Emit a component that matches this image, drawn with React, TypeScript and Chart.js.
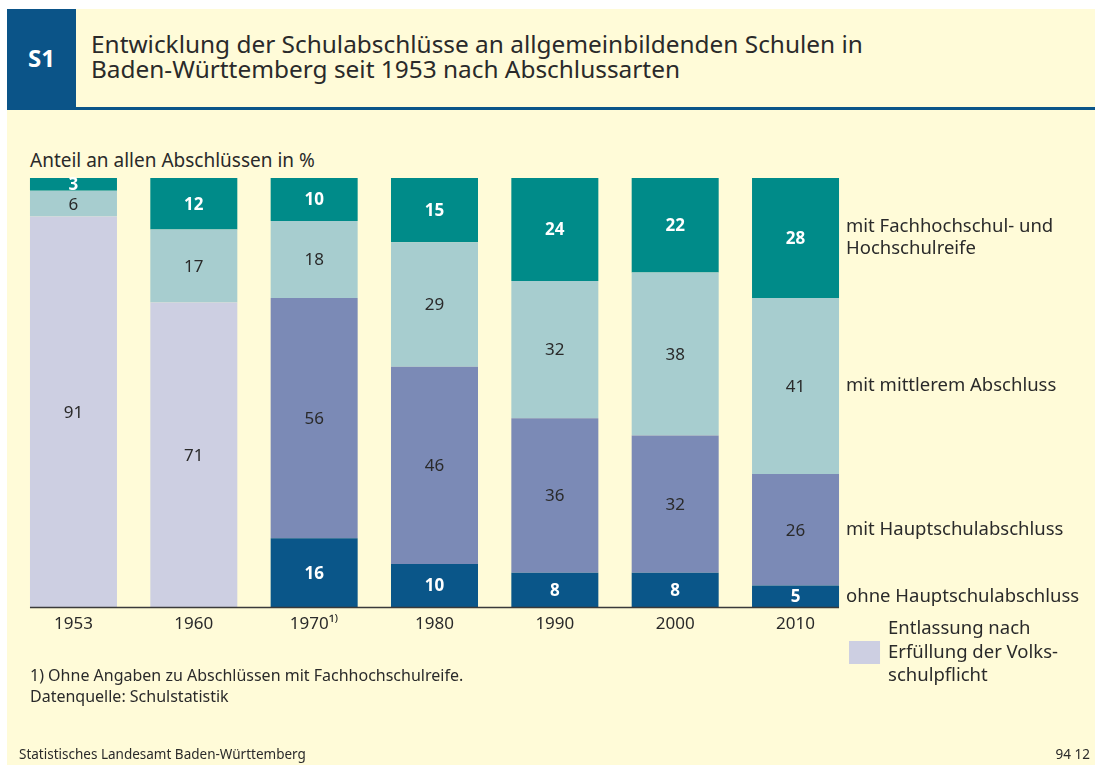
import React, { useEffect, useRef } from "react";
import { Chart, registerables } from "chart.js";

Chart.register(...registerables);

const years = ["1953", "1960", "1970\u00B9\u207E", "1980", "1990", "2000", "2010"];
const volksschule = [91, 71, null, null, null, null, null];
const ohneHaupt = [null, null, 16, 10, 8, 8, 5];
const mitHaupt = [null, null, 56, 46, 36, 32, 26];
const mittlerer = [6, 17, 18, 29, 32, 38, 41];
const hochschul = [3, 12, 10, 15, 24, 22, 28];

const seriesNames = [
  ["Entlassung nach", "Erfüllung der Volks-", "schulpflicht"],
  ["ohne Hauptschulabschluss"],
  ["mit Hauptschulabschluss"],
  ["mit mittlerem Abschluss"],
  ["mit Fachhochschul- und", "Hochschulreife"],
];

const colors = ["#CDCFE2", "#0A5689", "#7B8AB6", "#A7CDCF", "#008B89"];
const valueColors = ["#2a2a2a", "#ffffff", "#2a2a2a", "#2a2a2a", "#ffffff"];
const valueWeights = ["normal", "bold", "normal", "normal", "bold"];

const FONT = "'Noto Sans', sans-serif";
const TEXT = "#2a2a2a";

const labelPlugin = {
  id: "labelPlugin",
  afterDatasetsDraw(chart: any) {
    const ctx = chart.ctx;
    const area = chart.chartArea;
    ctx.save();
    // baseline under the bars
    const firstMeta = chart.getDatasetMeta(0);
    const lastIdx = years.length - 1;
    const firstEl = firstMeta.data[0];
    const lastEl = firstMeta.data[lastIdx];
    ctx.strokeStyle = "#3a3a3a";
    ctx.lineWidth = 1.5;
    ctx.beginPath();
    ctx.moveTo(firstEl.x - firstEl.width / 2, area.bottom + 0.5);
    ctx.lineTo(lastEl.x + lastEl.width / 2, area.bottom + 0.5);
    ctx.stroke();

    ctx.textAlign = "center";
    ctx.textBaseline = "middle";
    chart.data.datasets.forEach((ds: any, di: number) => {
      const meta = chart.getDatasetMeta(di);
      meta.data.forEach((el: any, i: number) => {
        const v = ds.data[i];
        if (v === null || v === undefined) return;
        ctx.fillStyle = valueColors[di];
        ctx.font = `${valueWeights[di]} 17px ${FONT}`;
        const yMid = (el.y + el.base) / 2;
        ctx.fillText(String(v), el.x, yMid + 1);
      });
    });

    // series labels on the right, beside the last bar
    ctx.textAlign = "left";
    ctx.fillStyle = TEXT;
    ctx.font = `18.5px ${FONT}`;
    for (let di = 1; di < chart.data.datasets.length; di++) {
      const el = chart.getDatasetMeta(di).data[lastIdx];
      const lines = seriesNames[di];
      const yMid = (el.y + el.base) / 2;
      const lh = 22;
      const x = el.x + el.width / 2 + 7;
      lines.forEach((ln, k) => {
        ctx.fillText(ln, x, yMid + (k - (lines.length - 1) / 2) * lh);
      });
    }

    // legend item for Volksschulpflicht
    const sx = lastEl.x + lastEl.width / 2 + 10;
    const sy = area.bottom + 34;
    ctx.fillStyle = colors[0];
    ctx.fillRect(sx, sy, 31, 23);
    ctx.fillStyle = TEXT;
    ctx.font = `18.5px ${FONT}`;
    const vl = seriesNames[0];
    vl.forEach((ln, k) => {
      ctx.fillText(ln, sx + 39, sy + 11.5 + (k - 1) * 23.5);
    });
    ctx.restore();
  },
};

function BarChart() {
  const ref = useRef<HTMLCanvasElement | null>(null);
  useEffect(() => {
    if (!ref.current) return;
    const seriesData = [volksschule, ohneHaupt, mitHaupt, mittlerer, hochschul];
    const chart = new Chart(ref.current, {
      type: "bar",
      data: {
        labels: years,
        datasets: seriesData.map((d, i) => ({
          label: seriesNames[i].join(" "),
          data: d,
          backgroundColor: colors[i],
          borderWidth: 0,
          barPercentage: 1,
          categoryPercentage: 0.723,
        })),
      },
      options: {
        animation: false,
        responsive: false,
        maintainAspectRatio: false,
        layout: { padding: { left: 13.3, right: 239.3, top: 178, bottom: 123.6 } },
        plugins: {
          legend: { display: false },
          tooltip: { enabled: false },
          title: { display: false },
        },
        scales: {
          x: {
            stacked: true,
            grid: { display: false, drawTicks: false },
            border: { display: false },
            ticks: {
              color: TEXT,
              font: { family: FONT, size: 17 },
              padding: 7,
              maxRotation: 0,
            },
          },
          y: {
            stacked: true,
            display: false,
            min: 0,
            max: 100,
          },
        },
      },
      plugins: [labelPlugin],
    });
    return () => chart.destroy();
  }, []);
  return (
    <canvas
      ref={ref}
      width={1095}
      height={765}
      style={{ position: "absolute", left: 0, top: 0, width: 1095, height: 765 }}
    />
  );
}

export default function App() {
  const abs = (s: React.CSSProperties): React.CSSProperties => ({ position: "absolute", ...s });
  return (
    <div style={{ position: "absolute", left: 0, top: 0, width: 1095, height: 765, background: "#ffffff", overflow: "hidden", fontFamily: FONT, color: TEXT }}>
      <div style={abs({ left: 7, top: 9, width: 1088, height: 756, background: "#FFFBD8" })} />
      <div style={abs({ left: 7, top: 9, width: 69, height: 98, background: "#0B5488" })} />
      <div style={abs({ left: 7, top: 107, width: 1088, height: 2.5, background: "#0B5488" })} />
      <div style={abs({ left: 7, top: 44, width: 69, textAlign: "center", color: "#fff", fontWeight: "bold", fontSize: 24, lineHeight: "28px" })}>S1</div>
      <div style={abs({ left: 91, top: 31, fontSize: 24.4, lineHeight: "25px", whiteSpace: "nowrap" })}>
        Entwicklung der Schulabschlüsse an allgemeinbildenden Schulen in
        <br />
        Baden-Württemberg seit 1953 nach Abschlussarten
      </div>
      <div style={abs({ left: 30, top: 147, fontSize: 19, lineHeight: "26px", whiteSpace: "nowrap" })}>Anteil an allen Abschlüssen in %</div>
      <BarChart />
      <div style={abs({ left: 30, top: 665, fontSize: 16, lineHeight: "21px", whiteSpace: "nowrap" })}>
        1) Ohne Angaben zu Abschlüssen mit Fachhochschulreife.
        <br />
        Datenquelle: Schulstatistik
      </div>
      <div style={abs({ left: 19, top: 745, fontSize: 13.5, lineHeight: "18px", whiteSpace: "nowrap" })}>Statistisches Landesamt Baden-Württemberg</div>
      <div style={abs({ right: 5, top: 745, fontSize: 13.5, lineHeight: "18px", whiteSpace: "nowrap" })}>94 12</div>
    </div>
  );
}
